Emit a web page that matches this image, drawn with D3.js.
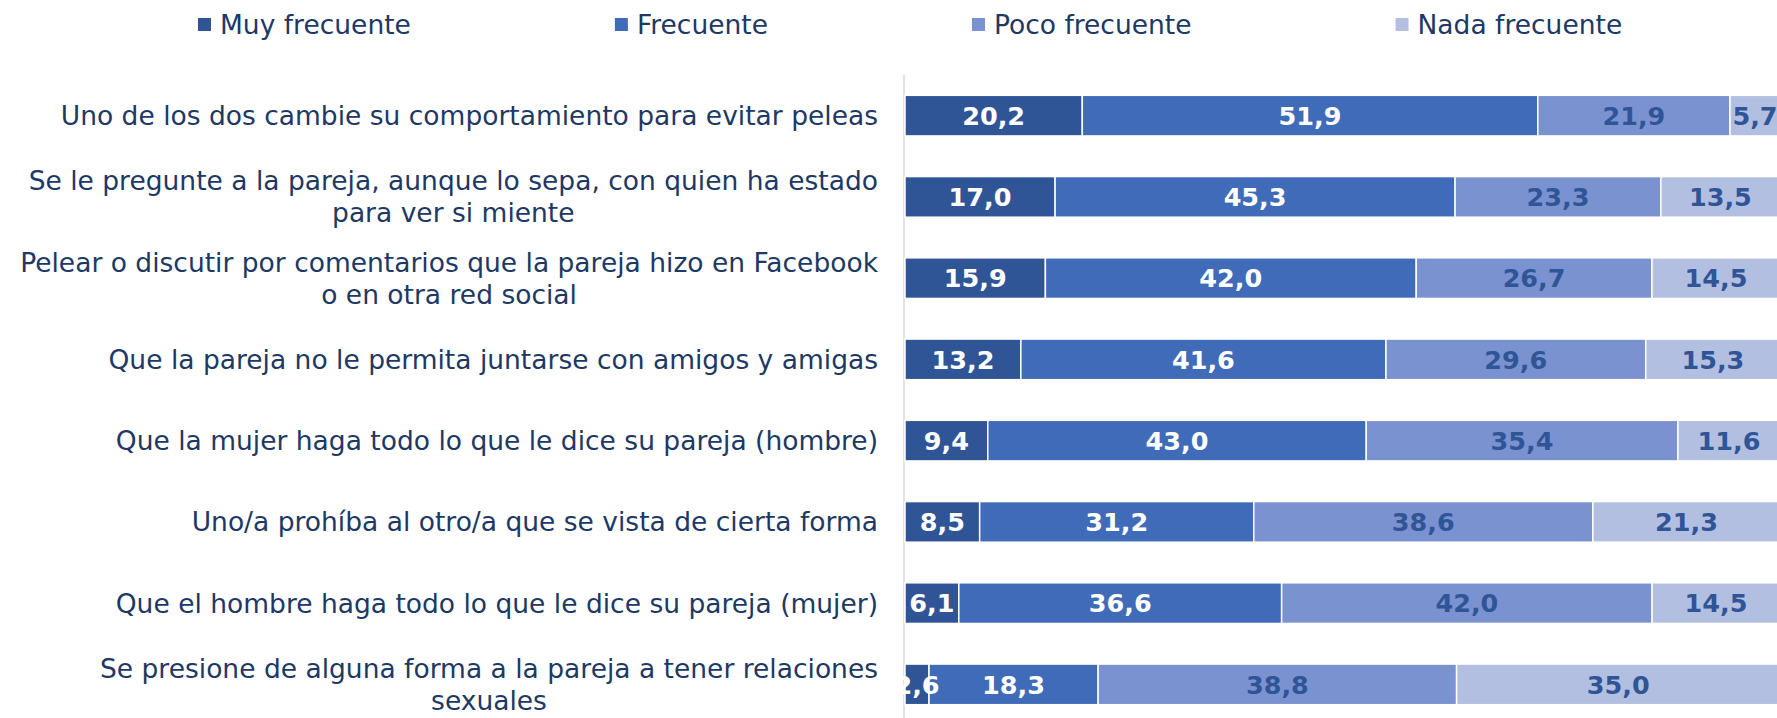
<!DOCTYPE html>
<html>
<head>
<meta charset="utf-8">
<script src="https://cdn.jsdelivr.net/npm/d3@7"></script>
<style>
  body { margin: 0; background: #fff; }
  svg { display: block; font-family: "DejaVu Sans", Verdana, sans-serif; }
</style>
</head>
<body>
<svg id="chart"></svg>
<script>
    // Chart size
    const width = 1777;
    const height = 718;

    // Data
    const categories = [
        ["Uno de los dos cambie su comportamiento para evitar peleas"],
        ["Se le pregunte a la pareja, aunque lo sepa, con quien ha estado", "para ver si miente"],
        ["Pelear o discutir por comentarios que la pareja hizo en Facebook", "o en otra red social"],
        ["Que la pareja no le permita juntarse con amigos y amigas"],
        ["Que la mujer haga todo lo que le dice su pareja (hombre)"],
        ["Uno/a prohíba al otro/a que se vista de cierta forma"],
        ["Que el hombre haga todo lo que le dice su pareja (mujer)"],
        ["Se presione de alguna forma a la pareja a tener relaciones", "sexuales"]
    ];
    const seriesNames = ["Muy frecuente", "Frecuente", "Poco frecuente", "Nada frecuente"];
    const muyFrecuente = [20.2, 17.0, 15.9, 13.2, 9.4, 8.5, 6.1, 2.6];
    const frecuente = [51.9, 45.3, 42.0, 41.6, 43.0, 31.2, 36.6, 18.3];
    const pocoFrecuente = [21.9, 23.3, 26.7, 29.6, 35.4, 38.6, 42.0, 38.8];
    const nadaFrecuente = [5.7, 13.5, 14.5, 15.3, 11.6, 21.3, 14.5, 35.0];

    const seriesValues = [muyFrecuente, frecuente, pocoFrecuente, nadaFrecuente];
    const colors = ["#2f5597", "#3f6bb9", "#7a92d0", "#b3bfe0"];
    const labelColors = ["#ffffff", "#ffffff", "#2f5597", "#2f5597"];

    // Build a table for d3.stack (100% stacked, like the original)
    const table = categories.map((c, i) => {
        const row = { idx: i };
        seriesNames.forEach((s, j) => row[s] = seriesValues[j][i]);
        return row;
    });
    const stacked = d3.stack()
        .keys(seriesNames)
        .offset(d3.stackOffsetExpand)(table);

    const svg = d3.select("#chart")
        .attr("width", width)
        .attr("height", height);

    const x = d3.scaleLinear().domain([0, 1]).range([905, 1780]);
    const y = d3.scaleBand()
        .domain(d3.range(categories.length))
        .range([75, 725])
        .paddingInner(0.5)
        .paddingOuter(0.25);

    // Vertical axis line
    svg.append("line")
        .attr("x1", 904).attr("x2", 904)
        .attr("y1", 75).attr("y2", height)
        .attr("stroke", "#d9d9d9")
        .attr("stroke-width", 1.5);

    // Bars
    const layer = svg.append("g")
      .selectAll("g")
      .data(stacked)
      .join("g")
        .attr("fill", (d, i) => colors[i]);

    layer.selectAll("rect")
      .data(d => d)
      .join("rect")
        .attr("x", d => x(d[0]))
        .attr("y", d => y(d.data.idx))
        .attr("width", d => x(d[1]) - x(d[0]))
        .attr("height", y.bandwidth())
        .attr("stroke", "#fff")
        .attr("stroke-width", 1.5);

    // Value labels (show the original values)
    stacked.forEach((s, i) => {
        svg.append("g")
          .selectAll("text")
          .data(s)
          .join("text")
            .attr("x", d => x((d[0] + d[1]) / 2))
            .attr("y", d => y(d.data.idx) + y.bandwidth() / 2)
            .attr("dy", "0.36em")
            .attr("text-anchor", "middle")
            .attr("font-size", 25.5)
            .attr("font-weight", "bold")
            .attr("fill", labelColors[i])
            .text(d => d3.format(".1f")(d.data[s.key]).replace(".", ","));
    });

    // Category labels: block right-aligned, lines centered
    const labelRight = 878;
    const lineGap = 32;
    categories.forEach((lines, i) => {
        const g = svg.append("g");
        const cy = y(i) + y.bandwidth() / 2;
        const texts = lines.map((ln, k) => g.append("text")
            .attr("y", cy + (k - (lines.length - 1) / 2) * lineGap)
            .attr("dy", "0.36em")
            .attr("text-anchor", "middle")
            .attr("font-size", 26.5)
            .attr("fill", "#203864")
            .text(ln));
        const w = d3.max(texts, t => t.node().getComputedTextLength());
        texts.forEach(t => t.attr("x", labelRight - w / 2));
    });

    // Legend
    const legend = svg.append("g");
    let lx = 198;
    seriesNames.forEach((name, i) => {
        legend.append("rect")
            .attr("x", lx).attr("y", 18)
            .attr("width", 13).attr("height", 13)
            .attr("fill", colors[i]);
        const t = legend.append("text")
            .attr("x", lx + 22).attr("y", 24)
            .attr("dy", "0.36em")
            .attr("font-size", 26.5)
            .attr("fill", "#203864")
            .text(name);
        lx += 22 + t.node().getComputedTextLength() + 204;
    });
</script>
</body>
</html>
